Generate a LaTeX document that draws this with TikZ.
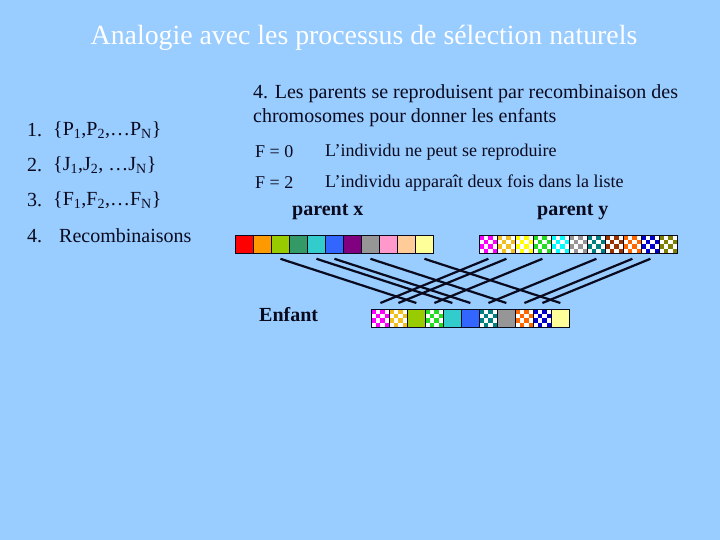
\documentclass[tikz,border=0pt]{standalone}
\usepackage{fontspec}
\setmainfont{Liberation Serif}
\usetikzlibrary{calc}
\definecolor{bgblue}{HTML}{99CCFF}
\definecolor{ink}{HTML}{0A0A1E}
\definecolor{cA}{HTML}{FF0000}
\definecolor{cB}{HTML}{FF9900}
\definecolor{cC}{HTML}{99CC00}
\definecolor{cD}{HTML}{339966}
\definecolor{cE}{HTML}{33CCCC}
\definecolor{cF}{HTML}{3366FF}
\definecolor{cG}{HTML}{800080}
\definecolor{cH}{HTML}{969696}
\definecolor{cI}{HTML}{FF99CC}
\definecolor{cJ}{HTML}{FFCC99}
\definecolor{cK}{HTML}{FFFF99}
\definecolor{kA}{HTML}{FF00FF}
\definecolor{kB}{HTML}{F0C020}
\definecolor{kC}{HTML}{FFFF00}
\definecolor{kD}{HTML}{22DD22}
\definecolor{kE}{HTML}{00FFFF}
\definecolor{kF}{HTML}{969696}
\definecolor{kG}{HTML}{008080}
\definecolor{kH}{HTML}{993300}
\definecolor{kI}{HTML}{FF6600}
\definecolor{kJ}{HTML}{0000CC}
\definecolor{kK}{HTML}{808000}
\tikzset{
  cellbox/.style={draw=ink, line width=0.8pt, rectangle, minimum width=18pt, minimum height=18pt, inner sep=0pt, anchor=north west},
  listtxt/.style={anchor=west, inner sep=0pt, text=ink, font=\fontsize{20}{24}\selectfont},
  smalltxt/.style={anchor=west, inner sep=0pt, text=ink, font=\fontsize{18}{21}\selectfont},
  boldtxt/.style={anchor=west, inner sep=0pt, text=ink, font=\fontsize{20}{24}\selectfont\bfseries},
  link/.style={draw=ink, line width=2.2pt}
}
\newcommand{\solidcell}[4]{\node[cellbox, fill=#4] (#1) at (#2,#3) {};}
\newcommand{\checkcell}[4]{\node[cellbox, fill=white, path picture={
  \foreach \ii in {0,...,3}{\foreach \jj in {0,...,3}{
    \pgfmathtruncatemacro\pq{mod(\ii+\jj,2)}
    \ifnum\pq=0
      \fill[#4] ([xshift=\ii*4.5pt, yshift=-\jj*4.5pt]path picture bounding box.north west) rectangle ++(4.5pt,-4.5pt);
    \fi
  }}}] (#1) at (#2,#3) {};}
\begin{document}
\begin{tikzpicture}[x=1pt,y=-1pt]
\fill[bgblue] (0,0) rectangle (720,540);
\useasboundingbox (0,0) rectangle (720,540);
% title
\node[text=white, inner sep=0pt, font=\fontsize{27.8}{32}\selectfont] (title) at (364,38) {Analogie avec les processus de sélection naturels};
% left list
\node[listtxt] (n1) at (27,130) {1.};
\node[listtxt] (l1) at (53,130) {\{P\textsubscript{1},P\textsubscript{2},…P\textsubscript{N}\}};
\node[listtxt] (n2) at (27,165) {2.};
\node[listtxt] (l2) at (53,165) {\{J\textsubscript{1},J\textsubscript{2}, …J\textsubscript{N}\}};
\node[listtxt] (n3) at (27,200) {3.};
\node[listtxt] (l3) at (53,200) {\{F\textsubscript{1},F\textsubscript{2},…F\textsubscript{N}\}};
\node[listtxt] (n4) at (27,236) {4.};
\node[listtxt] (l4) at (59,236) {Recombinaisons};
% right text
\node[listtxt] (r1) at (253,94) {4. Les parents se reproduisent par recombinaison des};
\node[listtxt] (r2) at (253,118) {chromosomes pour donner les enfants};
\node[smalltxt] (f0) at (255,152) {F = 0};
\node[smalltxt] (f0t) at (325,152) {L’individu ne peut se reproduire};
\node[smalltxt] (f2) at (255,183) {F = 2};
\node[smalltxt] (f2t) at (325,183) {L’individu apparaît deux fois dans la liste};
\node[boldtxt] (px) at (292,212) {parent x};
\node[boldtxt] (py) at (537,212) {parent y};
\node[boldtxt] (enf) at (259,315) {Enfant};
% parent x
\solidcell{x1}{235}{235}{cA}
\solidcell{x2}{253}{235}{cB}
\solidcell{x3}{271}{235}{cC}
\solidcell{x4}{289}{235}{cD}
\solidcell{x5}{307}{235}{cE}
\solidcell{x6}{325}{235}{cF}
\solidcell{x7}{343}{235}{cG}
\solidcell{x8}{361}{235}{cH}
\solidcell{x9}{379}{235}{cI}
\solidcell{x10}{397}{235}{cJ}
\solidcell{x11}{415}{235}{cK}
% parent y
\checkcell{y1}{479}{235}{kA}
\checkcell{y2}{497}{235}{kB}
\checkcell{y3}{515}{235}{kC}
\checkcell{y4}{533}{235}{kD}
\checkcell{y5}{551}{235}{kE}
\checkcell{y6}{569}{235}{kF}
\checkcell{y7}{587}{235}{kG}
\checkcell{y8}{605}{235}{kH}
\checkcell{y9}{623}{235}{kI}
\checkcell{y10}{641}{235}{kJ}
\checkcell{y11}{659}{235}{kK}
% child
\checkcell{c1}{371}{309}{kA}
\checkcell{c2}{389}{309}{kB}
\solidcell{c3}{407}{309}{cC}
\checkcell{c4}{425}{309}{kD}
\solidcell{c5}{443}{309}{cE}
\solidcell{c6}{461}{309}{cF}
\checkcell{c7}{479}{309}{kG}
\solidcell{c8}{497}{309}{cH}
\checkcell{c9}{515}{309}{kI}
\checkcell{c10}{533}{309}{kJ}
\solidcell{c11}{551}{309}{cK}
% connectors
\foreach \p/\c in {x3/c3, x5/c5, x6/c6, x8/c8, x11/c11, y1/c1, y2/c2, y4/c4, y7/c7, y9/c9, y10/c10}{
  \draw[link] ($(\p.south)+(0,5)$) -- ($(\c.north)+(0,-6)$);
}
\end{tikzpicture}
\end{document}
